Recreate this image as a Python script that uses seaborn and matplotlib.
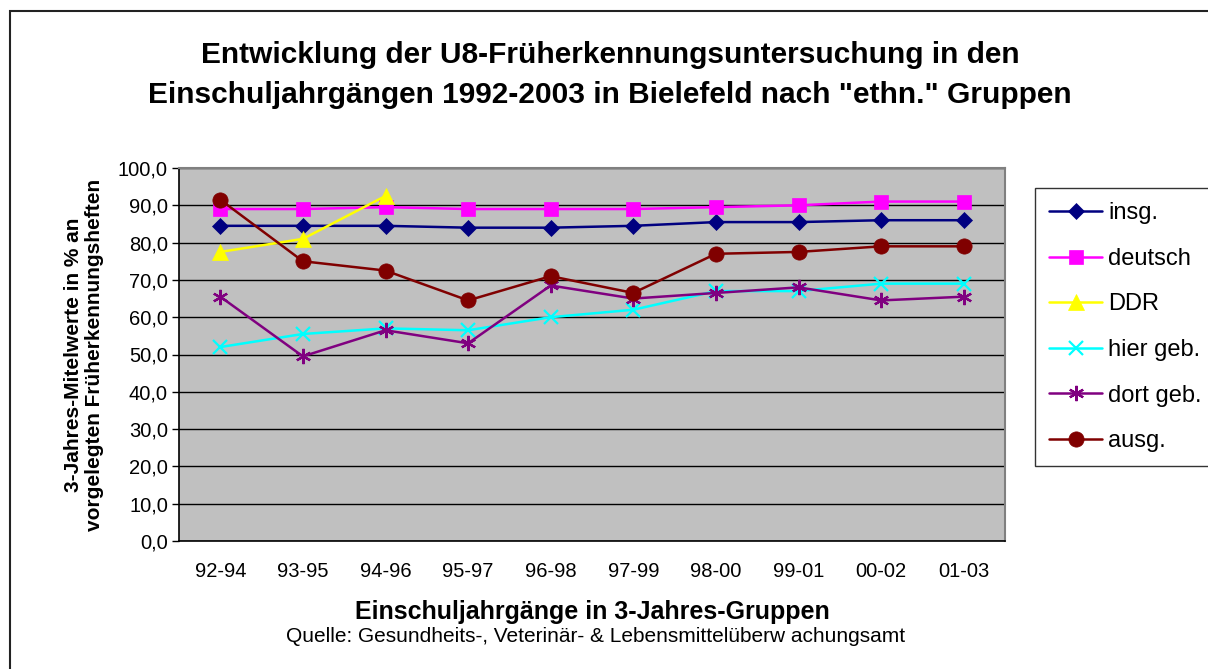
import matplotlib
matplotlib.use("Agg")
import matplotlib.pyplot as plt
import seaborn as sns
import pandas as pd
import numpy as np
from matplotlib.patches import Rectangle

categories = ["92-94", "93-95", "94-96", "95-97", "96-98", "97-99", "98-00", "99-01", "00-02", "01-03"]
insg = [84.5, 84.5, 84.5, 84.0, 84.0, 84.5, 85.5, 85.5, 86.0, 86.0]
deutsch = [89.0, 89.0, 89.5, 89.0, 89.0, 89.0, 89.5, 90.0, 91.0, 91.0]
ddr = [77.5, 81.0, 92.5, None, None, None, None, None, None, None]
hier_geb = [52.0, 55.5, 57.0, 56.5, 60.0, 62.0, 67.0, 67.0, 69.0, 69.0]
dort_geb = [65.5, 49.5, 56.5, 53.0, 68.5, 65.0, 66.5, 68.0, 64.5, 65.5]
ausg = [91.5, 75.0, 72.5, 64.5, 71.0, 66.5, 77.0, 77.5, 79.0, 79.0]

series_names = ["insg.", "deutsch", "DDR", "hier geb.", "dort geb.", "ausg."]
series_values = [insg, deutsch, ddr, hier_geb, dort_geb, ausg]
colors = ["#000080", "#FF00FF", "#FFFF00", "#00FFFF", "#800080", "#800000"]
markers = ["D", "s", "^", "x", (6, 2, 0), "o"]
msizes = [8, 10, 11, 10, 11, 11]

sns.set_theme(style="white")
plt.rcParams['font.family'] = ['Liberation Sans', 'DejaVu Sans']
for k in ["text.color", "axes.labelcolor", "xtick.color", "ytick.color"]:
    plt.rcParams[k] = "black"

fig = plt.figure(figsize=(12.08, 6.69), dpi=100)
fig.patches.append(Rectangle((10 / 1208, -0.05), 1.1, 1 - 11 / 669 + 0.05, transform=fig.transFigure,
                             fill=False, edgecolor="#222222", linewidth=1.5))
ax = fig.add_axes([179 / 1208, 1 - 541 / 669, (1005 - 179) / 1208, (541 - 168) / 669])
ax.set_facecolor("#C0C0C0")

rows = []
for name, vals in zip(series_names, series_values):
    for i, (c, v) in enumerate(zip(categories, vals)):
        if v is not None:
            rows.append({"cat": c, "x": i, "val": v, "series": name})
df = pd.DataFrame(rows)

for name, col, mk, ms in zip(series_names, colors, markers, msizes):
    sub = df[df["series"] == name]
    sns.lineplot(data=sub, x="x", y="val", ax=ax, color=col, marker=mk, markersize=ms,
                 markeredgecolor=col, markeredgewidth=1.6 if name in ("hier geb.", "dort geb.") else 0.5,
                 linewidth=1.8, label=name, zorder=3)

ax.set_xlim(-0.5, len(categories) - 0.5)
ax.set_ylim(0, 100)
yt = np.arange(0, 101, 10)
ax.set_yticks(yt)
ax.set_yticklabels([f"{v:.1f}".replace(".", ",") for v in yt], fontsize=14.5)
ax.set_xticks(range(len(categories)))
ax.set_xticklabels(categories, fontsize=14.5)
ax.set_xticks(np.arange(-0.5, len(categories), 1), minor=True)
ax.tick_params(axis="x", which="major", length=0, pad=15)
ax.tick_params(axis="x", which="minor", length=5, color="black", direction="out", width=1)
ax.tick_params(axis="y", length=5, color="black", direction="out", left=True, pad=3, width=1)
ax.yaxis.grid(True, color="black", linewidth=1)
ax.set_axisbelow(True)
for s in ["top", "right"]:
    ax.spines[s].set_color("#808080")
    ax.spines[s].set_linewidth(1.5)
for s in ["left", "bottom"]:
    ax.spines[s].set_color("black")
    ax.spines[s].set_linewidth(1.2)

ax.set_xlabel("Einschuljahrgänge in 3-Jahres-Gruppen", fontsize=18, fontweight="bold", labelpad=14)
ax.set_ylabel("3-Jahres-Mitelwerte in % an\nvorgelegten Früherkennungsheften", fontsize=15,
              fontweight="bold", labelpad=10, linespacing=1.15)

fig.text(0.505, 1 - 75 / 669, "Entwicklung der U8-Früherkennungsuntersuchung in den\nEinschuljahrgängen 1992-2003 in Bielefeld nach \"ethn.\" Gruppen",
         ha="center", va="center", fontsize=21.5, fontweight="bold", linespacing=1.55)
fig.text(0.493, 1 - 637 / 669, "Quelle: Gesundheits-, Veterinär- & Lebensmittelüberw achungsamt",
         ha="center", va="center", fontsize=15)

leg = ax.legend(loc="upper left", bbox_to_anchor=((1035 - 179) / (1005 - 179), (541 - 188) / (541 - 168)),
                frameon=True, fancybox=False, edgecolor="black", fontsize=17, labelspacing=1.0,
                handlelength=2.25, borderpad=0.6, handletextpad=0.25, borderaxespad=0)
leg.get_frame().set_linewidth(1)

fig.savefig("out.png", dpi=100)
